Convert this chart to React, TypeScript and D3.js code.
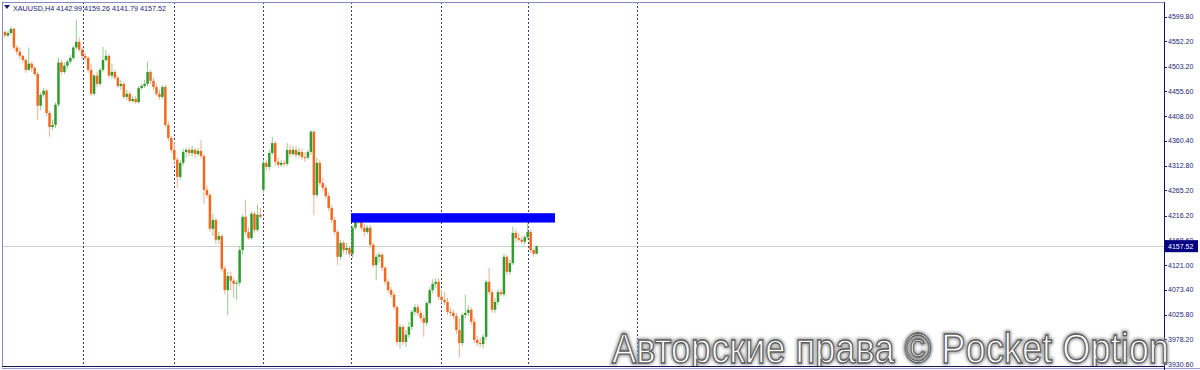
import React from "react";
import * as d3 from "d3";

const symbolTitle = "XAUUSD,H4";
const lastBarText = "4142.99 4159.26 4141.79 4157.52";

const opens = [
  4570,4563,4568,4576,4540,4532,4524,4516,4497,4509,
  4501,4489,4428,4449,4457,4414,4387,4391,4430,4511,
  4493,4505,4513,4520,4540,4551,4536,4524,4520,4497,
  4451,4486,4470,4497,4516,4524,4486,4493,4482,4466,
  4470,4445,4451,4437,4441,4435,4462,4466,4470,4493,
  4476,4464,4451,4445,4464,4391,4366,4343,4324,4291,
  4318,4339,4343,4337,4343,4335,4341,4331,4266,4256,
  4191,4208,4170,4177,4114,4073,4100,4091,4085,4087,
  4150,4214,4185,4173,4220,4189,4218,4266,4318,4310,
  4337,4356,4320,4314,4318,4316,4343,4335,4343,4333,
  4339,4329,4328,4339,4378,4256,4318,4279,4270,4254,
  4231,4208,4185,4137,4164,4150,4154,4143,4193,4208,
  4212,4193,4185,4193,4160,4121,4137,4141,4116,4089,
  4073,4064,4040,3973,4002,3973,3987,4002,4031,4040,
  4029,4019,4010,4048,4073,4085,4089,4060,4054,4050,
  4031,4029,4023,3996,3971,4025,4029,4035,4012,3977,
  3971,3969,3983,4089,4069,4035,4050,4069,4065,4137,
  4108,4125,4183,4173,4170,4166,4175,4185,4150,4142.99,
];

const highs = [
  4574,4572,4580,4578,4545,4540,4526,4520,4540,4513,
  4505,4493,4453,4462,4460,4418,4401,4434,4520,4516,
  4511,4516,4526,4543,4594,4559,4540,4530,4524,4509,
  4489,4493,4501,4541,4536,4528,4509,4497,4486,4478,
  4474,4459,4455,4447,4447,4466,4470,4478,4513,4497,
  4482,4470,4459,4468,4468,4397,4370,4358,4328,4324,
  4345,4347,4349,4351,4347,4347,4362,4335,4274,4260,
  4220,4212,4185,4181,4119,4108,4108,4096,4092,4158,
  4218,4247,4193,4224,4224,4237,4231,4324,4324,4343,
  4368,4360,4328,4324,4324,4356,4353,4351,4351,4347,
  4345,4339,4343,4381,4380,4328,4324,4289,4276,4260,
  4237,4214,4189,4170,4168,4164,4158,4197,4218,4222,
  4218,4200,4198,4198,4164,4143,4146,4145,4119,4094,
  4079,4069,4044,4008,4006,3996,4012,4035,4046,4046,
  4035,4025,4052,4079,4094,4096,4096,4073,4069,4058,
  4039,4035,4029,4019,4029,4064,4044,4040,4019,3985,
  3981,3988,4092,4116,4075,4058,4075,4075,4143,4141,
  4131,4195,4189,4183,4177,4179,4202,4189,4154,4159.26,
];

const lows = [
  4559,4561,4565,4536,4526,4518,4511,4491,4495,4493,
  4486,4401,4420,4445,4408,4368,4381,4385,4426,4487,
  4489,4499,4509,4516,4536,4532,4516,4514,4491,4447,
  4447,4464,4466,4493,4513,4482,4480,4478,4462,4459,
  4441,4439,4434,4434,4432,4432,4459,4462,4466,4470,
  4459,4447,4439,4441,4387,4360,4337,4314,4270,4285,
  4312,4328,4331,4330,4326,4331,4326,4239,4251,4185,
  4177,4162,4162,4108,4065,4025,4073,4058,4054,4081,
  4141,4179,4170,4170,4183,4185,4211,4260,4304,4304,
  4333,4312,4308,4310,4310,4312,4329,4331,4328,4328,
  4324,4320,4324,4333,4218,4252,4274,4264,4249,4225,
  4202,4179,4121,4131,4143,4141,4137,4135,4189,4200,
  4187,4177,4181,4154,4116,4092,4127,4110,4083,4067,
  4058,4035,3967,3960,3967,3963,3981,3996,4025,4023,
  4013,3983,4004,4044,4067,4077,4054,4048,4044,4025,
  4023,4017,3988,3944,3965,4019,4023,4006,3971,3965,
  3963,3961,3977,4064,4029,4029,4044,4062,4060,4102,
  4102,4121,4164,4166,4162,4160,4170,4145,4137,4141.79,
];

const closes = [
  4563,4568,4576,4540,4532,4524,4516,4497,4509,4501,
  4489,4428,4449,4457,4414,4387,4391,4430,4511,4493,
  4505,4513,4520,4540,4551,4536,4524,4520,4497,4451,
  4486,4470,4497,4516,4524,4486,4493,4482,4466,4470,
  4445,4451,4437,4441,4435,4462,4466,4470,4493,4476,
  4464,4451,4445,4464,4391,4366,4343,4324,4291,4318,
  4339,4343,4337,4343,4335,4341,4331,4266,4256,4191,
  4208,4170,4177,4114,4073,4100,4091,4085,4087,4150,
  4214,4185,4173,4220,4189,4218,4214,4318,4310,4337,
  4356,4320,4314,4318,4316,4343,4335,4343,4333,4339,
  4329,4328,4339,4378,4256,4318,4279,4270,4254,4231,
  4208,4185,4137,4164,4150,4154,4143,4193,4208,4212,
  4193,4185,4193,4160,4121,4137,4141,4116,4089,4073,
  4064,4040,3973,4002,3973,3987,4002,4031,4040,4029,
  4019,4010,4048,4073,4085,4089,4060,4054,4050,4031,
  4029,4023,3996,3971,4025,4029,4035,4012,3977,3971,
  3969,3983,4089,4069,4035,4050,4069,4065,4137,4108,
  4125,4183,4173,4170,4166,4175,4185,4150,4143,4157.52,
];

const priceTicks = [
  "4599.80","4552.20","4503.20","4455.60","4408.00","4360.40","4312.80",
  "4265.20","4216.20","4168.60","4121.00","4073.40","4025.80","3978.20","3930.60",
];

// period separators, expressed as bar positions
const separatorBars = [26.3, 56.9, 86.9, 116.5, 146.8, 176.1, 212.8];

// supply zone (blue rectangle)
const zoneFromBar = 116.5;
const zoneToBar = 185.2;
const zoneTop = 4221;
const zoneBottom = 4203;

const currentPrice = 4157.52;
const watermark = "Авторские права © Pocket Option";

const W = 1200;
const H = 370;
const PL = 2;
const PR = 1164;
const PT = 2;
const PB = 366;

const BULL = "#2f9c2f";
const BEAR = "#f06a1c";
const BULL_WICK = "#93cc93";
const BEAR_WICK = "#f5ad90";
const NAVY = "#1c1c78";

export default function App() {
  const x = d3.scaleLinear().domain([0, 179]).range([5, 536.6]);
  const y = d3.scaleLinear().domain([3930.6, 4599.8]).range([364, 16.5]);
  const bodyW = 2.5;

  return (
    <div style={{ position: "fixed", left: 0, top: 0, width: W, height: H, background: "#fff" }}>
      <svg width={W} height={H} style={{ display: "block" }}>
        <defs>
          <clipPath id="plotClip">
            <rect x={PL} y={PT} width={PR - PL + 40} height={PB - PT} />
          </clipPath>
          <filter id="glow" x="-5%" y="-20%" width="110%" height="140%">
            <feGaussianBlur stdDeviation="1.8" />
          </filter>
        </defs>
        <rect x={0} y={0} width={W} height={H} fill="#ffffff" />

        {/* current price line */}
        <line x1={PL} x2={PR} y1={Math.round(y(currentPrice)) + 0.5} y2={Math.round(y(currentPrice)) + 0.5} stroke="#cfcfcf" strokeWidth={1} />

        {/* period separators */}
        {separatorBars.map((b, i) => {
          const sx = Math.round(x(b)) + 0.5;
          return (
            <line key={"s" + i} x1={sx} x2={sx} y1={PT} y2={PB} stroke="#3a3a8c" strokeWidth={1} strokeDasharray="2 2" />
          );
        })}

        {/* candles */}
        {closes.map((c, i) => {
          const o = opens[i];
          const bull = c >= o;
          const cx = x(i);
          const yTop = y(Math.max(o, c));
          const yBot = y(Math.min(o, c));
          const h = Math.max(1, yBot - yTop);
          return (
            <g key={"c" + i}>
              <line x1={cx} x2={cx} y1={y(highs[i])} y2={y(lows[i])} stroke={bull ? BULL_WICK : BEAR_WICK} strokeWidth={1} />
              <rect x={cx - bodyW / 2} y={yTop} width={bodyW} height={h} fill={bull ? BULL : BEAR} />
            </g>
          );
        })}

        {/* zone */}
        <rect x={x(zoneFromBar)} y={y(zoneTop)} width={x(zoneToBar) - x(zoneFromBar)} height={y(zoneBottom) - y(zoneTop)} fill="#0000ff" />

        {/* frame */}
        <line x1={PL + 0.5} x2={PL + 0.5} y1={PT} y2={PB} stroke="#8a8ac0" />
        <line x1={PL} x2={PR} y1={PT + 0.5} y2={PT + 0.5} stroke="#8a8ac0" />
        <line x1={PL} x2={PR + 1} y1={PB + 0.5} y2={PB + 0.5} stroke="#14145a" />
        <line x1={PL} x2={W} y1={PB + 2.5} y2={PB + 2.5} stroke="#9a9ad0" />
        <line x1={PR + 0.5} x2={PR + 0.5} y1={PT} y2={H} stroke="#14145a" />

        {/* price axis */}
        {priceTicks.map((t) => {
          const ty = y(+t);
          return (
            <g key={t}>
              <line x1={PR} x2={PR + 3} y1={Math.round(ty) + 0.5} y2={Math.round(ty) + 0.5} stroke={NAVY} />
              <text x={PR + 4} y={ty + 2.5} fontFamily="Liberation Sans, Arial, sans-serif" fontSize={7} fill={NAVY}>
                {t}
              </text>
            </g>
          );
        })}

        {/* current price label */}
        <rect x={PR + 1} y={y(currentPrice) - 6} width={33} height={12} fill="#000080" />
        <text x={PR + 4} y={y(currentPrice) + 2.5} fontFamily="Liberation Sans, Arial, sans-serif" fontSize={7} fill="#ffffff">
          {currentPrice.toFixed(2)}
        </text>

        {/* title */}
        <path d="M4,5 L10,5 L7,9 Z" fill={NAVY} />
        <text x={13} y={11} fontFamily="Liberation Sans, Arial, sans-serif" fontSize={7.2} fill={NAVY}>
          {symbolTitle + "  " + lastBarText}
        </text>

        {/* watermark */}
        <g clipPath="url(#plotClip)">
          <text x={612} y={363} fontFamily="Liberation Sans, Arial, sans-serif" fontSize={42} textLength={557} lengthAdjust="spacingAndGlyphs" fill="none" stroke="#a0a0a0" strokeWidth={4} filter="url(#glow)">
            {watermark}
          </text>
          <text x={612} y={363} fontFamily="Liberation Sans, Arial, sans-serif" fontSize={42} textLength={557} lengthAdjust="spacingAndGlyphs" fill="#ffffff" stroke="#5e5e5e" strokeWidth={1.3}>
            {watermark}
          </text>
        </g>
      </svg>
    </div>
  );
}
